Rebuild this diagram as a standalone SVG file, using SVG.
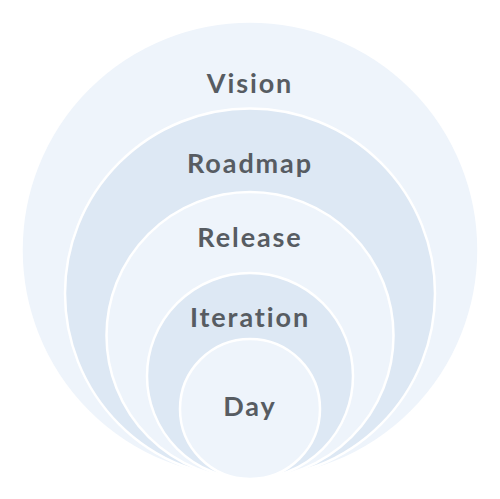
<svg xmlns="http://www.w3.org/2000/svg" width="500" height="499" viewBox="0 0 500 499">
<style>
.light{fill:#eef4fb;stroke:#ffffff;stroke-width:2.5}
.dark{fill:#dde8f4;stroke:#ffffff;stroke-width:2.5}
.lbl{font-family:Lato,"Open Sans",sans-serif;font-weight:bold;font-size:27px;fill:#575c62;text-anchor:middle;letter-spacing:1.9px}
</style>
<rect width="500" height="499" fill="#ffffff"/>
<g id="vision"><circle class="light" cx="250" cy="250" r="228.5" stroke="none"/><text class="lbl" x="250" y="93">Vision</text></g>
<g id="roadmap"><circle class="dark" cx="250" cy="293.5" r="185"/><text class="lbl" x="250" y="173">Roadmap</text></g>
<g id="release"><circle class="light" cx="250" cy="335.5" r="143.5"/><text class="lbl" x="250" y="247">Release</text></g>
<g id="iteration"><circle class="dark" cx="250" cy="376" r="103"/><text class="lbl" x="250" y="327">Iteration</text></g>
<g id="day"><circle class="light" cx="250" cy="409" r="70"/><text class="lbl" x="250" y="416">Day</text></g>
<g id="connectors"/>
</svg>
